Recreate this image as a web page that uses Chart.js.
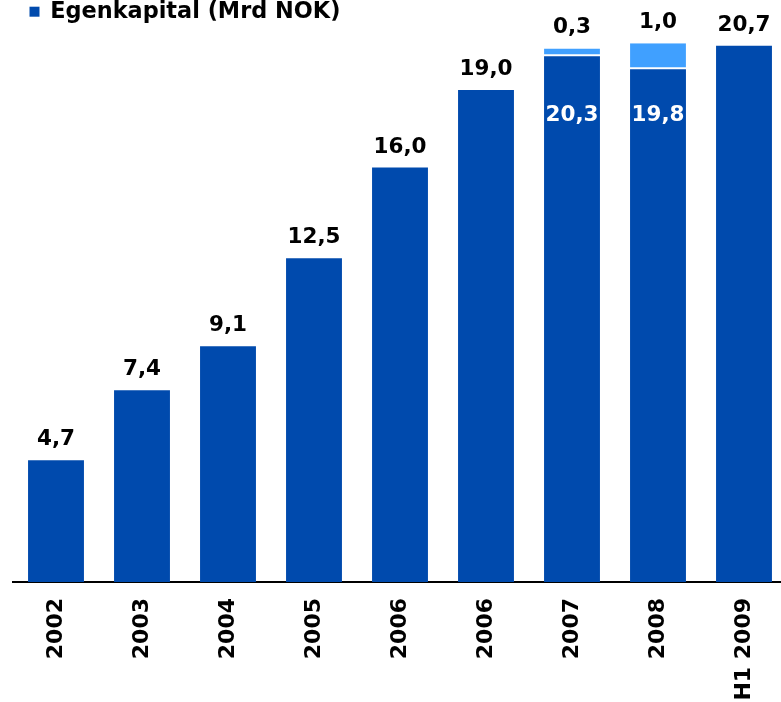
<!DOCTYPE html>
<html><head><meta charset="utf-8">
<script src="https://cdn.jsdelivr.net/npm/chart.js@4/dist/chart.umd.min.js"></script>
<style>html,body{margin:0;padding:0;overflow:hidden;background:#fff}canvas{display:block}</style>
</head><body>
<canvas id="c" width="787" height="702"></canvas>
<script>
const categories = ['2002', '2003', '2004', '2005', '2006', '2006', '2007', '2008', 'H1 2009'];
const equity = [4.7, 7.4, 9.1, 12.5, 16.0, 19.0, 20.3, 19.8, 20.7];
const addition = [null, null, null, null, null, null, 0.3, 1.0, null];
const seriesNames = ['Egenkapital (Mrd NOK)', ''];

const DARK = '#004AAD';
const LIGHT = '#40A0FF';
const FONT = '"DejaVu Sans", Verdana, sans-serif';
const fmt = v => v.toFixed(1).replace('.', ',');

const labelPlugin = {
  id: 'valueLabels',
  afterDatasetsDraw(chart) {
    const ctx = chart.ctx;
    const ys = chart.scales.y;
    const m0 = chart.getDatasetMeta(0), m1 = chart.getDatasetMeta(1);
    ctx.save();
    ctx.font = 'bold 21.5px ' + FONT;
    ctx.textAlign = 'center';
    categories.forEach((c, i) => {
      const b0 = m0.data[i];
      if (addition[i] != null) {
        const b1 = m1.data[i];
        ctx.fillStyle = '#fff';
        ctx.textBaseline = 'middle';
        ctx.fillText(fmt(equity[i]), b0.x, ys.getPixelForValue(18));
        ctx.fillStyle = '#000';
        ctx.textBaseline = 'alphabetic';
        ctx.fillText(fmt(addition[i]), b1.x, b1.y - 15);
      } else {
        ctx.fillStyle = '#000';
        ctx.textBaseline = 'alphabetic';
        ctx.fillText(fmt(equity[i]), b0.x, b0.y - 15);
      }
    });
    ctx.restore();
  }
};

new Chart(document.getElementById('c'), {
  type: 'bar',
  data: {
    labels: categories,
    datasets: [
      {
        label: seriesNames[0], data: equity, backgroundColor: DARK, borderWidth: 0,
        categoryPercentage: 1, barPercentage: 0.65, clip: false
      },
      {
        label: seriesNames[1], data: addition, backgroundColor: LIGHT, borderColor: '#fff',
        borderWidth: {top: 0, left: 0, right: 0, bottom: 2}, borderSkipped: false,
        categoryPercentage: 1, barPercentage: 0.65, clip: false
      }
    ]
  },
  options: {
    responsive: false,
    animation: false,
    devicePixelRatio: 1,
    layout: {padding: {left: 13, right: 0, top: -16.5, bottom: 0}},
    plugins: {
      legend: {
        display: true, position: 'top', align: 'start',
        labels: {
          usePointStyle: true, pointStyle: 'rect', boxWidth: 9, boxHeight: 10, padding: 17,
          color: '#000', font: {family: FONT, size: 22.4, weight: 'bold'},
          filter: item => item.datasetIndex === 0
        }
      },
      tooltip: {enabled: false}
    },
    scales: {
      x: {
        stacked: true,
        grid: {display: false, drawTicks: false},
        border: {display: true, color: '#000', width: 2},
        ticks: {
          minRotation: 90, maxRotation: 90, padding: 16, autoSkip: false,
          color: '#000', font: {family: FONT, size: 22, weight: 'bold'}
        },
        afterFit: s => { s.height = 120; }
      },
      y: {
        stacked: true, display: false, min: 0, max: 21.2
      }
    }
  },
  plugins: [labelPlugin]
});
</script>
</body></html>
